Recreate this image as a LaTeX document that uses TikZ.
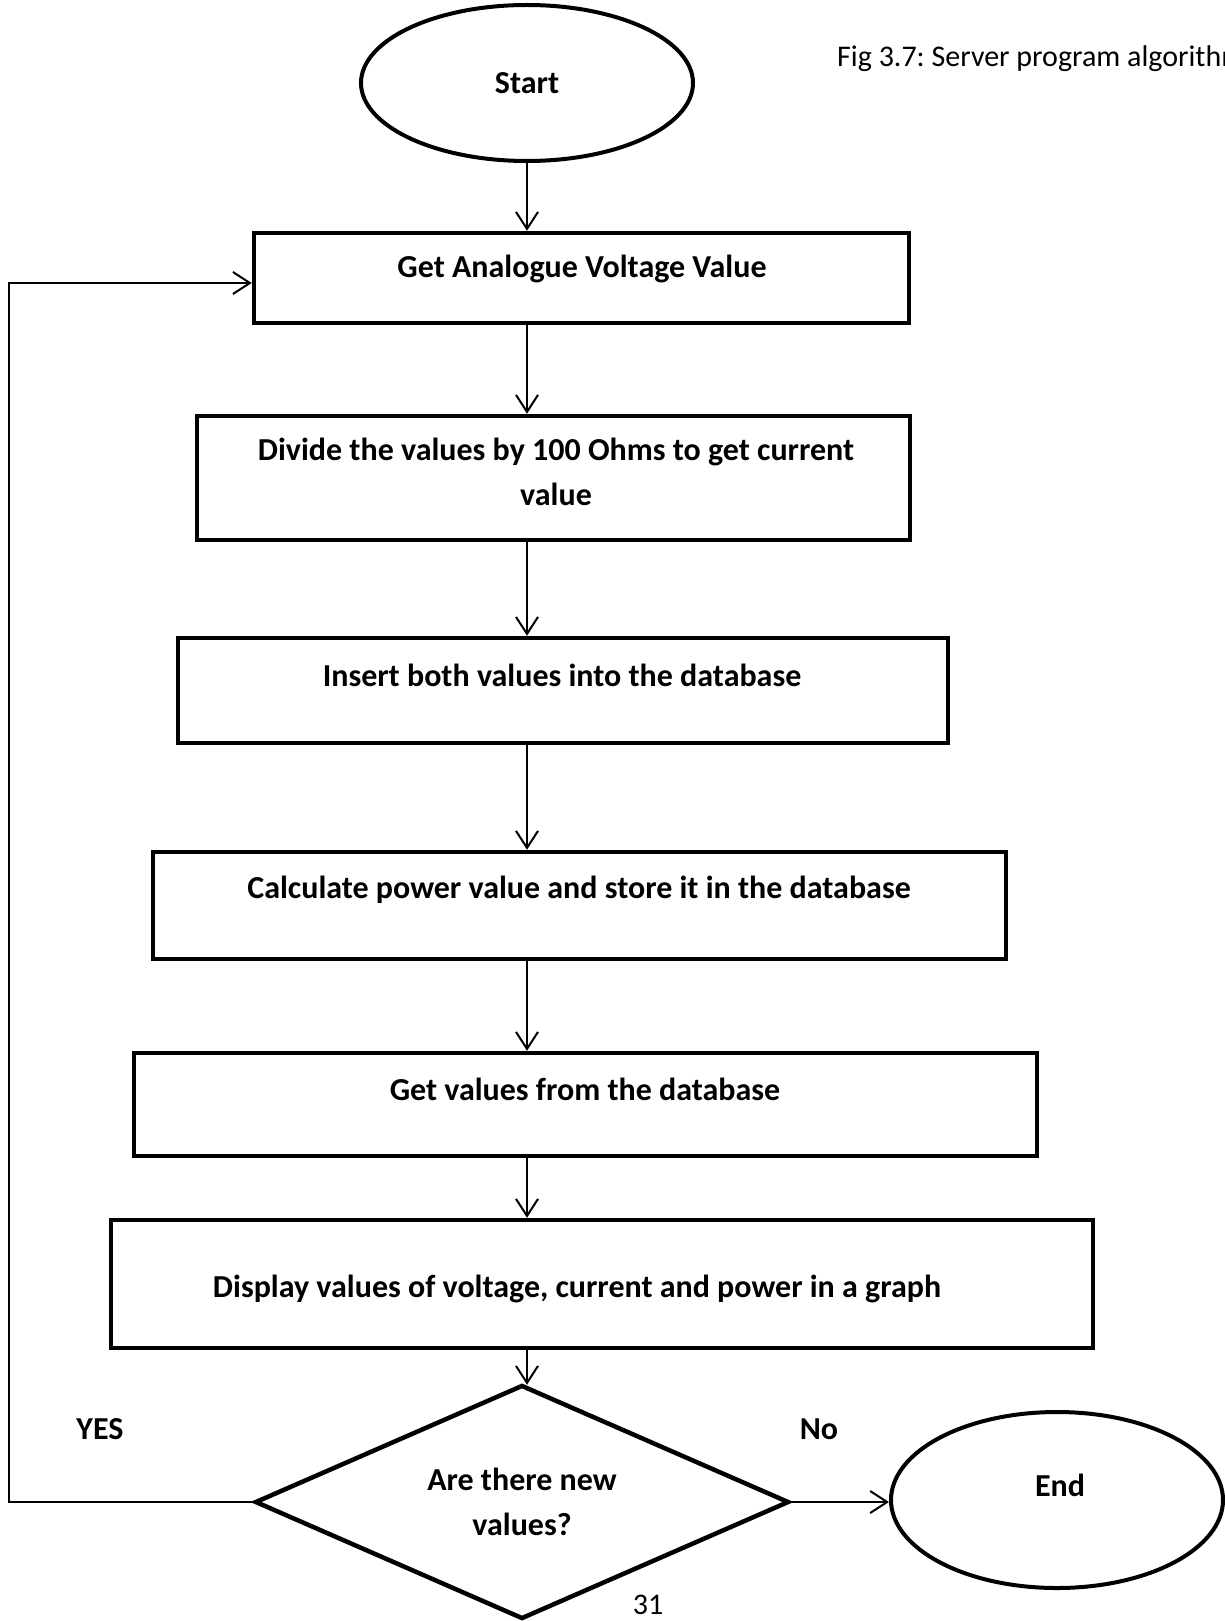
\documentclass[tikz,border=0pt]{standalone}
\usepackage{fontspec}
\setmainfont{Carlito}
\frenchspacing
\usetikzlibrary{shapes.geometric,arrows.meta,calc}
\begin{document}
\begin{tikzpicture}[x=1pt,y=-1pt,
  box/.style={draw,rectangle,line width=4.5pt,inner sep=0pt},
  oval/.style={draw,ellipse,line width=4pt,inner sep=0pt},
  txt/.style={font=\fontsize{32}{45}\selectfont\bfseries,align=center,inner sep=0pt},
  plain/.style={font=\fontsize{30}{36}\selectfont\frenchspacing,inner sep=0pt},
  conn/.style={line width=2pt,-{Straight Barb[length=17pt,width=22pt,line width=2pt]}},
  line/.style={line width=2pt}]
\useasboundingbox (0,0) rectangle (1225,1621);

% caption
\node[plain,anchor=west] (cap) at (837,59) {Fig 3.7: Server program algorithm};

% start
\node[oval,txt,minimum width=332pt,minimum height=156pt] (start) at (527,83) {Start};

% boxes
\node[box,minimum width=655pt,minimum height=90pt] (b1) at (581.5,278) {};
\node[txt] (t1) at (582,269) {Get Analogue Voltage Value};

\node[box,minimum width=713pt,minimum height=124pt] (b2) at (553.5,478) {};
\node[txt] (t2) at (556,472) {Divide the values by 100 Ohms to get current\\value};

\node[box,minimum width=770pt,minimum height=105pt] (b3) at (563,690.5) {};
\node[txt] (t3) at (562,675) {Insert both values into the database};

\node[box,minimum width=853pt,minimum height=107pt] (b4) at (579.5,905.5) {};
\node[txt] (t4) at (579,890) {Calculate power value and store it in the database};

\node[box,minimum width=903pt,minimum height=103pt] (b5) at (585.5,1104.5) {};
\node[txt] (t5) at (585,1089) {Get values from the database};

\node[box,minimum width=982pt,minimum height=128pt] (b6) at (602,1284) {};
\node[txt] (t6) at (577,1289) {Display values of voltage, current and power in a graph};

% decision
\node[draw,diamond,aspect=2.28,line width=4.5pt,minimum width=534pt,minimum height=234pt,txt] (dec) at (522,1502) {Are there new\\values?};

% end
\node[oval,minimum width=332pt,minimum height=176pt] (endc) at (1057,1500) {};
\node[txt] (endt) at (1060,1485) {End};

% labels
\node[txt] (yes) at (100,1429) {YES};
\node[txt] (no) at (819,1429) {No};
\node[plain] (pg) at (648,1605) {31};

% connectors
\draw[conn] (start.south) -- (start.south |- b1.north);
\draw[conn] (b1.south -| start.south) -- (b2.north -| start.south);
\draw[conn] (b2.south -| start.south) -- (b3.north -| start.south);
\draw[conn] (b3.south -| start.south) -- (b4.north -| start.south);
\draw[conn] (b4.south -| start.south) -- (b5.north -| start.south);
\draw[conn] (b5.south -| start.south) -- (b6.north -| start.south);
\draw[conn] (b6.south -| start.south) -- ($(dec.north -| start.south)+(0,2)$);

\coordinate (lp) at (9,1502);
\coordinate (lq) at ($(b1.west)+(0,5)$);
\draw[conn] (dec.west) -- (lp) |- (lq);
\draw[conn] (dec.east) -- (dec.east -| endc.west);
\end{tikzpicture}
\end{document}
